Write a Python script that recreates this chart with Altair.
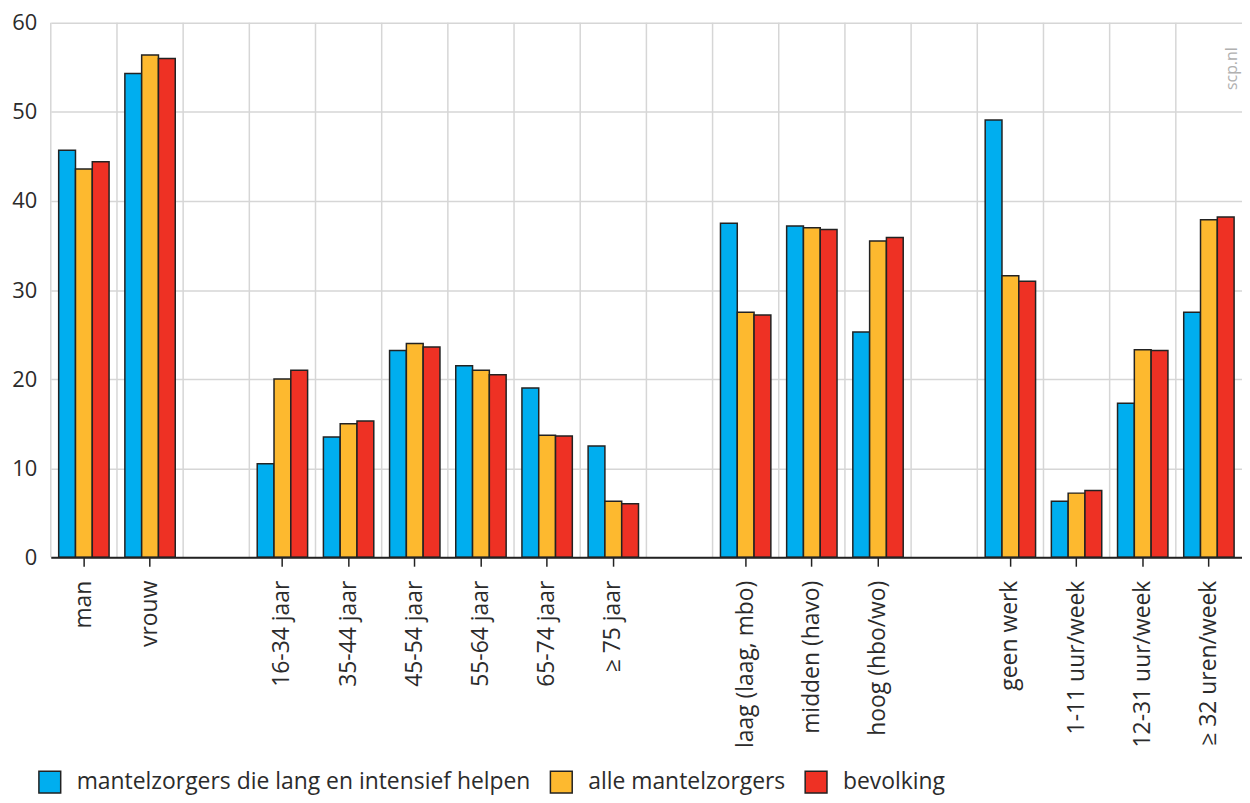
import altair as alt
import pandas as pd

categories = ["man", "vrouw", " ", "16-34 jaar", "35-44 jaar", "45-54 jaar", "55-64 jaar",
              "65-74 jaar", "≥ 75 jaar", "  ", "laag (laag, mbo)", "midden (havo)",
              "hoog (hbo/wo)", "   ", "geen werk", "1-11 uur/week", "12-31 uur/week",
              "≥ 32 uren/week"]
series = ["mantelzorgers die lang en intensief helpen", "alle mantelzorgers", "bevolking"]
intensief = [45.7, 54.3, None, 10.5, 13.5, 23.2, 21.5, 19.0, 12.5, None, 37.5, 37.2, 25.3, None, 49.1, 6.3, 17.3, 27.5]
alle = [43.6, 56.4, None, 20.0, 15.0, 24.0, 21.0, 13.7, 6.3, None, 27.5, 37.0, 35.5, None, 31.6, 7.2, 23.3, 37.9]
bevolking = [44.4, 56.0, None, 21.0, 15.3, 23.6, 20.5, 13.6, 6.0, None, 27.2, 36.8, 35.9, None, 31.0, 7.5, 23.2, 38.2]
colors = ["#00AEEF", "#FDB92F", "#EE3124"]
y_ticks = [0, 10, 20, 30, 40, 50, 60]

rows = []
for s, vals in zip(series, [intensief, alle, bevolking]):
    for c, v in zip(categories, vals):
        if v is not None:
            rows.append({"cat": c, "serie": s, "value": v})
df = pd.DataFrame(rows)
cat_df = pd.DataFrame({"cat": categories})

FONT = "Open Sans"
W = 1197
H = 537

x_scale = alt.Scale(domain=categories, paddingInner=0, paddingOuter=0)
x_axis = alt.Axis(title=None, labelAngle=270, labelFontSize=23, labelFont=FONT,
                  labelColor="#2b2b2b", labelPadding=14, tickSize=9, tickWidth=1.5,
                  tickColor="#222222", domainColor="#222222", domainWidth=2,
                  grid=False, zindex=1,
                  tickOpacity={"condition": {"test": "trim(datum.value) == ''", "value": 0}, "value": 1})

grid_v = alt.Chart(cat_df).mark_rule(color="#d6d6d6", strokeWidth=1.5).encode(
    x=alt.X("cat:N", sort=categories, scale=x_scale, bandPosition=0, axis=x_axis)
)

bars = alt.Chart(df).mark_bar(stroke="#222222", strokeWidth=1.5).encode(
    x=alt.X("cat:N", sort=categories, scale=x_scale, axis=x_axis),
    xOffset=alt.XOffset("serie:N", sort=series,
                        scale=alt.Scale(domain=series, paddingInner=0, paddingOuter=0.47)),
    y=alt.Y("value:Q", scale=alt.Scale(domain=[0, 60], nice=False),
            axis=alt.Axis(title=None, values=y_ticks, grid=True, gridColor="#d6d6d6", gridWidth=1.5,
                          domain=False, ticks=False, labelFontSize=22, labelFont=FONT,
                          labelColor="#2b2b2b", labelPadding=14)),
    color=alt.Color("serie:N", sort=series, scale=alt.Scale(domain=series, range=colors),
                    legend=alt.Legend(title=None, orient="none", direction="horizontal",
                                      legendX=-13, legendY=751, symbolType="square",
                                      symbolSize=480, symbolStrokeColor="#222222",
                                      symbolStrokeWidth=1.5, symbolOpacity=1,
                                      labelFontSize=23, labelFont=FONT, labelColor="#2b2b2b",
                                      labelOffset=15, columnPadding=16, labelLimit=700)),
)

credit = alt.Chart(cat_df.head(1)).mark_text(
    text="scp.nl", angle=270, color="#b0b0b0", fontSize=16, font=FONT,
    align="center", baseline="middle"
).encode(x=alt.value(W - 10), y=alt.value(46))

chart = alt.layer(grid_v, bars, credit).properties(
    width=W, height=H,
    padding={"left": 3, "top": 2, "right": 0, "bottom": 0},
).configure_view(stroke=None)

chart.save("out.html", embed_options={"renderer": "svg", "actions": False})
